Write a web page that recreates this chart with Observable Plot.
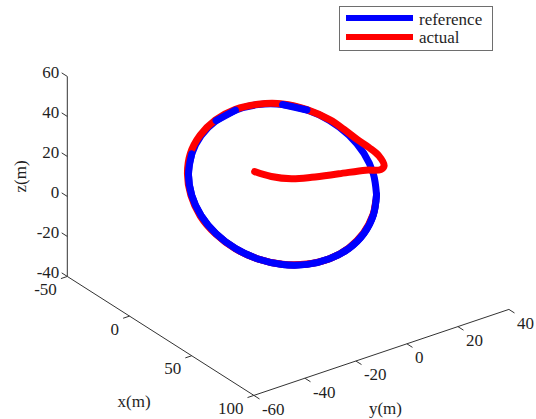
<!DOCTYPE html>
<html>
<head>
<meta charset="utf-8">
<script src="https://cdn.jsdelivr.net/npm/d3@7"></script>
<script src="https://cdn.jsdelivr.net/npm/@observablehq/plot@0.6"></script>
<style>
  body { margin: 0; background: #fff; }
  #wrap { position: relative; width: 536px; height: 419px; font-family: "Liberation Serif", "Times New Roman", serif; color: #1f1f1f; }
  #chart svg, #chart svg text { font-family: "Liberation Serif", "Times New Roman", serif !important; }
  .legend { position: absolute; left: 339px; top: 6px; width: 152px; height: 43px; border: 1px solid #6e6e6e; background: #fff; }
  .legend .swatch { position: absolute; left: 6px; width: 67px; height: 6px; }
  .legend .label { position: absolute; left: 79px; font-size: 17px; line-height: 17px; white-space: nowrap; }
</style>
</head>
<body>
<div id="wrap">
  <div id="chart"></div>
  <div class="legend">
    <div class="swatch" style="top:8px;background:#0000ff"></div>
    <div class="label" style="top:4px">reference</div>
    <div class="swatch" style="top:27px;background:#ff0000"></div>
    <div class="label" style="top:22px">actual</div>
  </div>
</div>
<script>
// Reference circle (m), every 15 degrees around the loop
const refX = [34.6, 33.4, 30.0, 24.5, 17.3, 9.0, 0, -9.0, -17.3, -24.5, -30.0, -33.4, -34.6, -33.4, -30.0, -24.5, -17.3, -9.0, 0, 9.0, 17.3, 24.5, 30.0, 33.4, 34.6];
const refY = [20.0, 19.3, 17.3, 14.1, 10.0, 5.2, 0, -5.2, -10.0, -14.1, -17.3, -19.3, -20.0, -19.3, -17.3, -14.1, -10.0, -5.2, 0, 5.2, 10.0, 14.1, 17.3, 19.3, 20.0];
const refZ = [0, 10.4, 20.0, 28.3, 34.6, 38.6, 40.0, 38.6, 34.6, 28.3, 20.0, 10.4, 0, -10.4, -20.0, -28.3, -34.6, -38.6, -40.0, -38.6, -34.6, -28.3, -20.0, -10.4, 0];

// Actual flown path (m): take-off run, hook onto the loop, then one lap
const actX = [-10.3, -4.1, 3.4, 10.8, 20.7, 30.6, 36.1, 37.4, 35.5, 31.8, 27.7, 22.5, 17.5, 9.0, 0, -9.0, -17.5, -24.7, -30.3, -33.9, -35.0, -33.7, -30.2, -24.6, -17.4, -9.0, 0, 8.9, 17.3, 24.4, 29.8, 33.3, 34.3];
const actY = [-5.9, -2.4, 1.9, 6.2, 12.0, 17.7, 20.9, 21.6, 20.5, 18.4, 16.0, 13.0, 10.1, 5.2, 0, -5.2, -10.1, -14.3, -17.5, -19.6, -20.2, -19.5, -17.5, -14.2, -10.0, -5.2, 0, 5.2, 10.0, 14.1, 17.2, 19.2, 19.8];
const actZ = [4.9, 3.4, 3.4, 5.2, 8.4, 11.7, 12.8, 14.9, 19.6, 23.2, 26.4, 31.0, 34.9, 38.8, 40.3, 38.8, 34.9, 28.6, 20.2, 10.5, 0, -10.4, -20.2, -28.4, -34.7, -38.6, -39.9, -38.5, -34.6, -28.1, -19.9, -10.3, -3.5];

// Axis limits and ticks
const xLim = [-50, 100], yLim = [-60, 40], zLim = [-40, 60];
const xTicks = [-50, 0, 50, 100];
const yTicks = [-60, -40, -20, 0, 20, 40];
const zTicks = [-40, -20, 0, 20, 40, 60];

// Fixed 3-D view: screen units per metre along each data axis (X right, Y up)
const P = (x, y, z) => ({X: 1.244 * x + 2.55 * y, Y: -0.793 * x + 0.86 * y + 2 * z});

const ref = refX.map((x, i) => P(x, refY[i], refZ[i]));
const act = actX.map((x, i) => P(x, actY[i], actZ[i]));

// Box edges carrying the three axes
const [x0, x1] = xLim, [y0, y1] = yLim, [z0, z1] = zLim;
const axes = [
  {a: P(x0, y0, z0), b: P(x0, y0, z1)},
  {a: P(x0, y0, z0), b: P(x1, y0, z0)},
  {a: P(x1, y0, z0), b: P(x1, y1, z0)}
];
const zRows = zTicks.map(v => ({v, a: P(x0, y0, v), b: P(x0 - 4.5, y0, v)}));
const xRows = xTicks.map(v => ({v, a: P(v, y0, z0), b: P(v, y0 - 2.5, z0)}));
const yRows = yTicks.map(v => ({v, a: P(x1, v, z0), b: P(x1 + 4.5, v, z0)}));

const ink = "#333";
const font = {fontFamily: "Liberation Serif", fontSize: 17, fill: "#1f1f1f"};
const lw = 7;
const line = (data, color) => Plot.line(data, {x: "X", y: "Y", stroke: color, strokeWidth: lw, curve: "catmull-rom", strokeLinejoin: "round"});
const link = (rows) => Plot.link(rows, {x1: d => d.a.X, y1: d => d.a.Y, x2: d => d.b.X, y2: d => d.b.Y, stroke: ink, strokeWidth: 1});

const chart = Plot.plot({
  width: 536,
  height: 419,
  margin: 0,
  x: {domain: [-282, 254], range: [0, 536], axis: null},
  y: {domain: [-235, 184], range: [419, 0], axis: null},
  style: {background: "white", fontFamily: "Liberation Serif"},
  marks: [
    link(axes),
    link(zRows), link(xRows), link(yRows),
    Plot.text(zRows, {x: d => d.a.X, y: d => d.a.Y, text: d => String(d.v), textAnchor: "end", dx: -8, dy: -4, ...font}),
    Plot.text(xRows, {x: d => d.a.X, y: d => d.a.Y, text: d => String(d.v), textAnchor: "end", dx: -10.5, dy: 13, ...font}),
    Plot.text(yRows, {x: d => d.a.X, y: d => d.a.Y, text: d => String(d.v), textAnchor: "start", dx: 8, dy: 14, ...font}),
    Plot.text([P(x0, y0, 10)], {x: "X", y: "Y", text: ["z(m)"], rotate: -90, dx: -47, ...font}),
    Plot.text([P(25, y0, z0)], {x: "X", y: "Y", text: ["x(m)"], dx: -26.5, dy: 65.5, ...font}),
    Plot.text([P(x1, -10, z0)], {x: "X", y: "Y", text: ["y(m)"], dx: 4, dy: 56, ...font}),
    // reference underneath, actual over it, then the lower half of the reference on top
    line(ref, "#0000ff"),
    line(act, "#ff0000"),
    line(ref.slice(11), "#0000ff"),
    line(ref.slice(5, 7), "#0000ff"),
    line(ref.slice(8, 10), "#0000ff")
  ]
});
document.getElementById("chart").append(chart);
</script>
</body>
</html>
